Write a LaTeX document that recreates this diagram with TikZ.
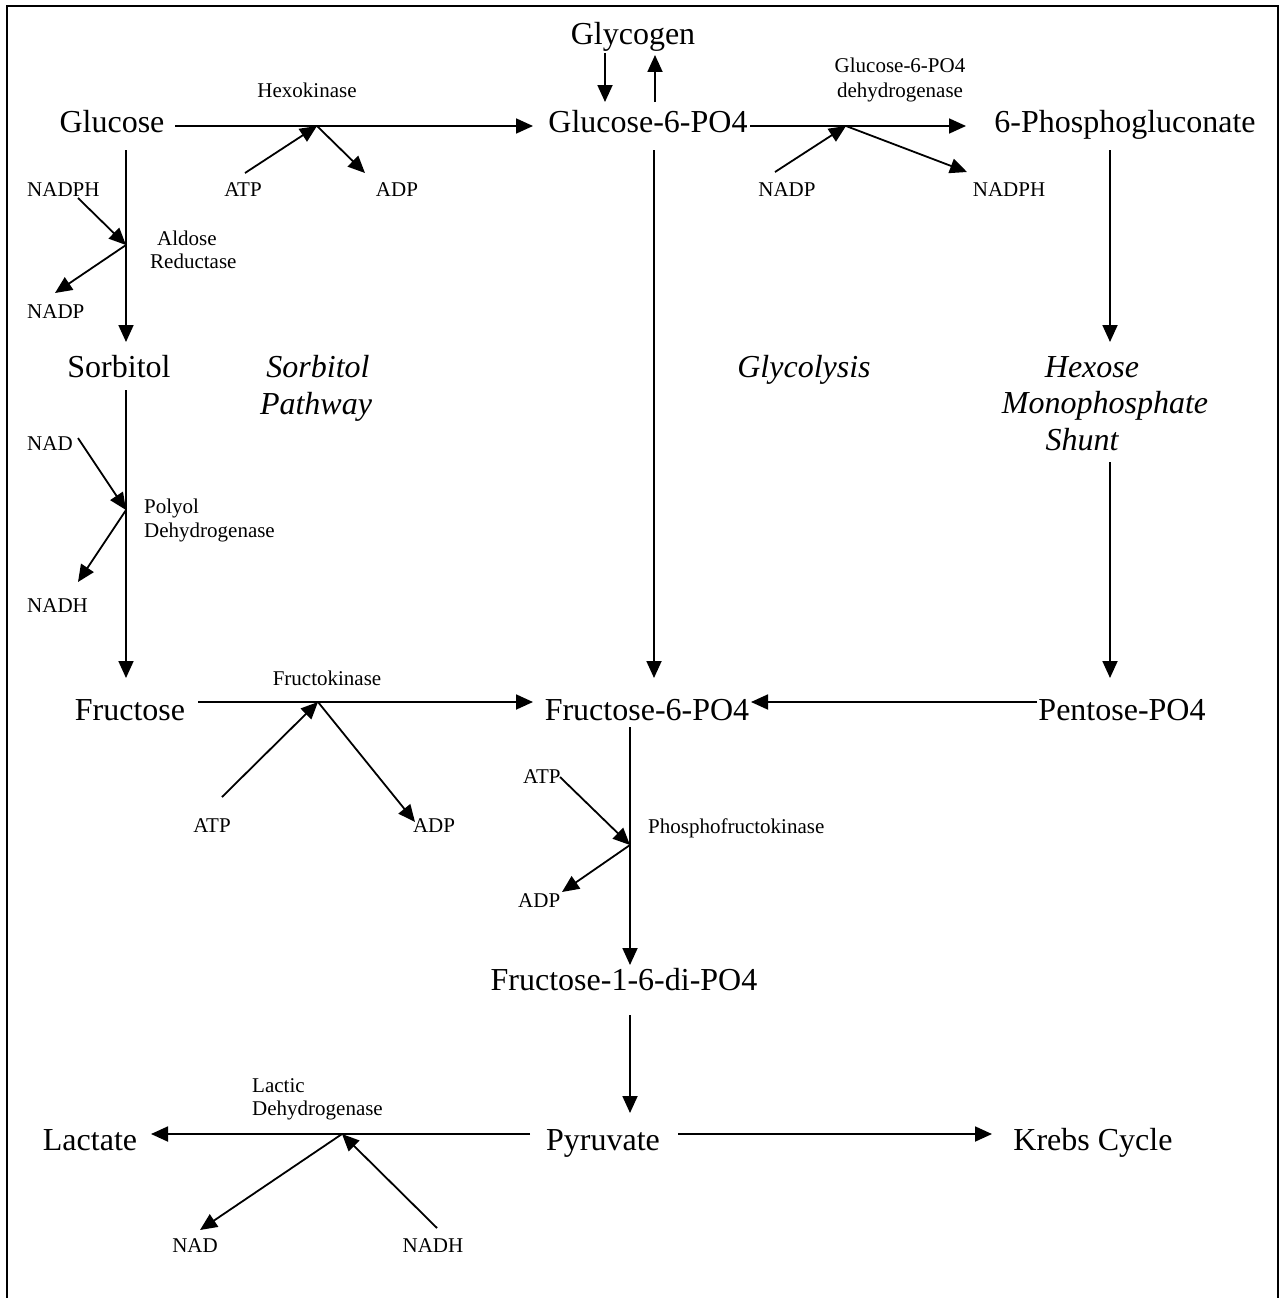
\documentclass[tikz,border=0pt]{standalone}
\usepackage{fontspec}
\setmainfont{Liberation Serif}
\usetikzlibrary{arrows.meta}
\begin{document}
\begin{tikzpicture}[x=1pt,y=-1pt,
  big/.style={font=\fontsize{32}{38}\selectfont, inner sep=0pt, anchor=base},
  bigit/.style={font=\fontsize{32}{38}\selectfont\itshape, inner sep=0pt, anchor=base},
  small/.style={font=\fontsize{21}{25}\selectfont, inner sep=0pt, anchor=base},
  smallw/.style={small, anchor=base west},
  flow/.style={line width=1.8pt, -{Triangle[length=17pt,width=15pt]}},
  frame/.style={line width=2pt}]

% page area and open frame
\useasboundingbox (0,0) rectangle (1284,1298);
\draw[frame] (7,1298) -- (7,6) -- (1278,6) -- (1278,1298);

% metabolites
\node[big] (glycogen) at (633,45)   {Glycogen};
\node[big] (glucose)  at (112,132)  {Glucose};
\node[big] (g6p)      at (648,132)  {Glucose-6-PO4};
\node[big] (pgluc)    at (1125,132) {6-Phosphogluconate};
\node[big] (sorbitol) at (119,377)  {Sorbitol};
\node[big] (fructose) at (130,720)  {Fructose};
\node[big] (f6p)      at (647,720)  {Fructose-6-PO4};
\node[big] (pentose)  at (1122,720) {Pentose-PO4};
\node[big] (f16)      at (624,990)  {Fructose-1-6-di-PO4};
\node[big] (lactate)  at (90,1150)  {Lactate};
\node[big] (pyruvate) at (603,1150) {Pyruvate};
\node[big] (krebs)    at (1093,1150) {Krebs Cycle};

% pathway names
\node[bigit] (sorb1) at (318,377)  {Sorbitol};
\node[bigit] (sorb2) at (316,414)  {Pathway};
\node[bigit] (glyco) at (804,377)  {Glycolysis};
\node[bigit] (hmp1)  at (1092,377) {Hexose};
\node[bigit] (hmp2)  at (1105,413) {Monophosphate};
\node[bigit] (hmp3)  at (1082,450) {Shunt};

% enzymes
\node[small]  (hexo)   at (307,97)  {Hexokinase};
\node[small]  (g6pd1)  at (900,73)  {Glucose-6-PO4};
\node[small]  (g6pd2)  at (900,97)  {dehydrogenase};
\node[smallw] (ar1)    at (157,245) {Aldose};
\node[smallw] (ar2)    at (150,268) {Reductase};
\node[smallw] (pd1)    at (144,513) {Polyol};
\node[smallw] (pd2)    at (144,537) {Dehydrogenase};
\node[small]  (fk)     at (327,685) {Fructokinase};
\node[smallw] (pfk)    at (648,833) {Phosphofructokinase};
\node[smallw] (ldh1)   at (252,1092) {Lactic};
\node[smallw] (ldh2)   at (252,1115) {Dehydrogenase};

% cofactors
\node[small]  (atpA)   at (243,196) {ATP};
\node[small]  (adpA)   at (397,196) {ADP};
\node[smallw] (nadphA) at (27,196)  {NADPH};
\node[smallw] (nadpA)  at (27,318)  {NADP};
\node[small]  (nadpB)  at (787,196) {NADP};
\node[small]  (nadphB) at (1009,196) {NADPH};
\node[smallw] (nadC)   at (27,450)  {NAD};
\node[smallw] (nadhC)  at (27,612)  {NADH};
\node[small]  (atpD)   at (212,832) {ATP};
\node[small]  (adpD)   at (434,832) {ADP};
\node[smallw] (atpE)   at (523,783) {ATP};
\node[smallw] (adpE)   at (518,907) {ADP};
\node[small]  (nadF)   at (195,1252) {NAD};
\node[small]  (nadhF)  at (433,1252) {NADH};

% reaction points on the main arrows
\coordinate (jHexo) at (317,126);
\coordinate (jG6pd) at (846,126);
\coordinate (jAr)   at (126,245);
\coordinate (jPd)   at (126,510);
\coordinate (jFk)   at (318,702);
\coordinate (jPfk)  at (630,845);
\coordinate (jLdh)  at (342,1134);

% main arrow ends
\coordinate (glcE)   at (175,126);
\coordinate (g6pW)   at (533,126);
\coordinate (g6pE)   at (750,126);
\coordinate (pglW)   at (966,126);
\coordinate (glcS)   at (126,150);
\coordinate (sorN)   at (126,342);
\coordinate (sorS)   at (126,390);
\coordinate (fruN)   at (126,678);
\coordinate (g6pS)   at (654,150);
\coordinate (f6pN)   at (654,678);
\coordinate (pglS)   at (1110,150);
\coordinate (hmpN)   at (1110,342);
\coordinate (hmpS)   at (1110,462);
\coordinate (penN)   at (1110,678);
\coordinate (fruE)   at (198,702);
\coordinate (f6pW)   at (533,702);
\coordinate (penW)   at (1037,702);
\coordinate (f6pE)   at (751,702);
\coordinate (f6pS)   at (630,727);
\coordinate (f16N)   at (630,965);
\coordinate (f16S)   at (630,1015);
\coordinate (pyrN)   at (630,1113);
\coordinate (pyrW)   at (530,1134);
\coordinate (lacE)   at (151,1134);
\coordinate (pyrE)   at (678,1134);
\coordinate (krbW)   at (992,1134);
\coordinate (glyDa)  at (605,53);
\coordinate (glyDb)  at (605,102);
\coordinate (glyUa)  at (655,102);
\coordinate (glyUb)  at (655,55);

% cofactor arrow ends
\coordinate (atpAe)   at (245,173);
\coordinate (adpAe)   at (365,173);
\coordinate (nadpBe)  at (775,172);
\coordinate (nadphBe) at (967,172);
\coordinate (nadphAe) at (78,198);
\coordinate (nadpAe)  at (55,293);
\coordinate (nadCe)   at (78,438);
\coordinate (nadhCe)  at (78,582);
\coordinate (atpDe)   at (222,797);
\coordinate (adpDe)   at (415,822);
\coordinate (atpEe)   at (560,777);
\coordinate (adpEe)   at (562,892);
\coordinate (nadFe)   at (200,1230);
\coordinate (nadhFe)  at (437,1228);

% main conversions
\draw[flow] (glcE) -- (g6pW);
\draw[flow] (g6pE) -- (pglW);
\draw[flow] (glcS) -- (sorN);
\draw[flow] (sorS) -- (fruN);
\draw[flow] (g6pS) -- (f6pN);
\draw[flow] (pglS) -- (hmpN);
\draw[flow] (hmpS) -- (penN);
\draw[flow] (fruE) -- (f6pW);
\draw[flow] (penW) -- (f6pE);
\draw[flow] (f6pS) -- (f16N);
\draw[flow] (f16S) -- (pyrN);
\draw[flow] (pyrW) -- (lacE);
\draw[flow] (pyrE) -- (krbW);
\draw[flow] (glyDa) -- (glyDb);
\draw[flow] (glyUa) -- (glyUb);

% cofactors in and out
\draw[flow] (atpAe) -- (jHexo);
\draw[flow] (jHexo) -- (adpAe);
\draw[flow] (nadpBe) -- (jG6pd);
\draw[flow] (jG6pd) -- (nadphBe);
\draw[flow] (nadphAe) -- (jAr);
\draw[flow] (jAr) -- (nadpAe);
\draw[flow] (nadCe) -- (jPd);
\draw[flow] (jPd) -- (nadhCe);
\draw[flow] (atpDe) -- (jFk);
\draw[flow] (jFk) -- (adpDe);
\draw[flow] (atpEe) -- (jPfk);
\draw[flow] (jPfk) -- (adpEe);
\draw[flow] (jLdh) -- (nadFe);
\draw[flow] (nadhFe) -- (jLdh);
\end{tikzpicture}
\end{document}
